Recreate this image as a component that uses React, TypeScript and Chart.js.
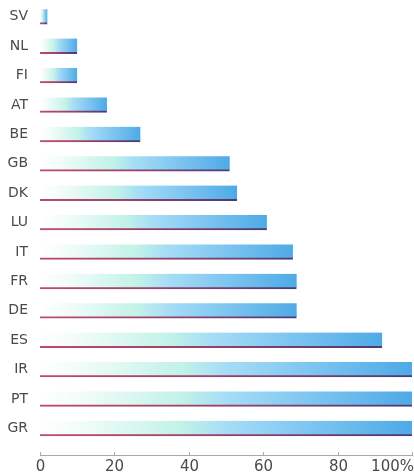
import React, { useEffect, useRef } from "react";
import { Chart, registerables } from "chart.js";

Chart.register(...registerables);

const categories = ["SV", "NL", "FI", "AT", "BE", "GB", "DK", "LU", "IT", "FR", "DE", "ES", "IR", "PT", "GR"];
const values = [2, 10, 10, 18, 27, 51, 53, 61, 68, 69, 69, 92, 100, 100, 100];
const xTicks = [0, 20, 40, 60, 80, 100];
const xTickLabels = ["0", "20", "40", "60", "80", "100%"];

const FONT = '"DejaVu Sans", sans-serif';

function barFill(ctx: any) {
  const chart = ctx.chart;
  const xs = chart.scales && chart.scales.x;
  if (!chart.chartArea || !xs) return "#6ab8ea";
  const x0 = xs.getPixelForValue(0);
  const x1 = xs.getPixelForValue(ctx.raw);
  const g = chart.ctx.createLinearGradient(x0, 0, Math.max(x1, x0 + 1), 0);
  g.addColorStop(0, "#ffffff");
  g.addColorStop(0.12, "#f0fcf9");
  g.addColorStop(0.38, "#c2f2e8");
  g.addColorStop(0.5, "#a6ddf6");
  g.addColorStop(0.75, "#7ac3f0");
  g.addColorStop(1, "#4eaae6");
  return g;
}

function lineFill(ctx: any) {
  const chart = ctx.chart;
  const xs = chart.scales && chart.scales.x;
  if (!chart.chartArea || !xs) return "#8a3a60";
  const x0 = xs.getPixelForValue(0);
  const x1 = xs.getPixelForValue(ctx.raw);
  const g = chart.ctx.createLinearGradient(x0, 0, Math.max(x1, x0 + 1), 0);
  g.addColorStop(0, "#c04a68");
  g.addColorStop(0.45, "#a0406a");
  g.addColorStop(1, "#4a3a78");
  return g;
}

const axisPlugin = {
  id: "customAxis",
  afterDraw(chart: any) {
    const { ctx, chartArea } = chart;
    const xs = chart.scales.x;
    const y = 455;
    ctx.save();
    ctx.strokeStyle = "#a8a8a8";
    ctx.lineWidth = 1;
    ctx.beginPath();
    ctx.moveTo(chartArea.left, y + 0.5);
    ctx.lineTo(chartArea.right, y + 0.5);
    ctx.stroke();
    ctx.fillStyle = "#4a4a4a";
    ctx.font = "15px " + FONT;
    ctx.textBaseline = "middle";
    xTicks.forEach((v, i) => {
      const px = Math.round(xs.getPixelForValue(v)) + 0.5;
      ctx.beginPath();
      ctx.moveTo(px, y - 3);
      ctx.lineTo(px, y + 1);
      ctx.stroke();
      const last = i === xTicks.length - 1;
      ctx.textAlign = last ? "right" : "center";
      ctx.fillText(xTickLabels[i], last ? chartArea.right + 2 : px, 467);
    });
    ctx.restore();
  },
};

export default function App() {
  const ref = useRef<HTMLCanvasElement | null>(null);
  useEffect(() => {
    document.body.style.margin = "0";
    const canvas = ref.current!;
    const chart = new Chart(canvas, {
      type: "bar",
      data: {
        labels: categories,
        datasets: [
          {
            data: values,
            backgroundColor: barFill,
            borderColor: lineFill,
            borderWidth: { top: 0, left: 0, right: 0, bottom: 2 },
            borderSkipped: false,
            barThickness: 15,
          } as any,
        ],
      },
      options: {
        indexAxis: "y",
        animation: false,
        responsive: false,
        maintainAspectRatio: false,
        layout: { padding: { top: 2, bottom: 32, left: 0, right: 2 } },
        plugins: { legend: { display: false }, tooltip: { enabled: false } },
        scales: {
          x: {
            display: false,
            min: 0,
            max: 100,
          },
          y: {
            grid: { display: false, drawTicks: false },
            border: { display: false },
            ticks: {
              padding: 12,
              color: "#4a4a4a",
              font: { family: FONT, size: 14 },
            },
            afterFit(scale: any) {
              scale.width = 40;
              scale.paddingTop = 0;
              scale.paddingBottom = 0;
            },
          },
        },
      },
      plugins: [axisPlugin],
    });
    return () => chart.destroy();
  }, []);
  return (
    <div style={{ width: 414, height: 475, background: "#ffffff" }}>
      <canvas ref={ref} width={414} height={475} style={{ display: "block" }} />
    </div>
  );
}
